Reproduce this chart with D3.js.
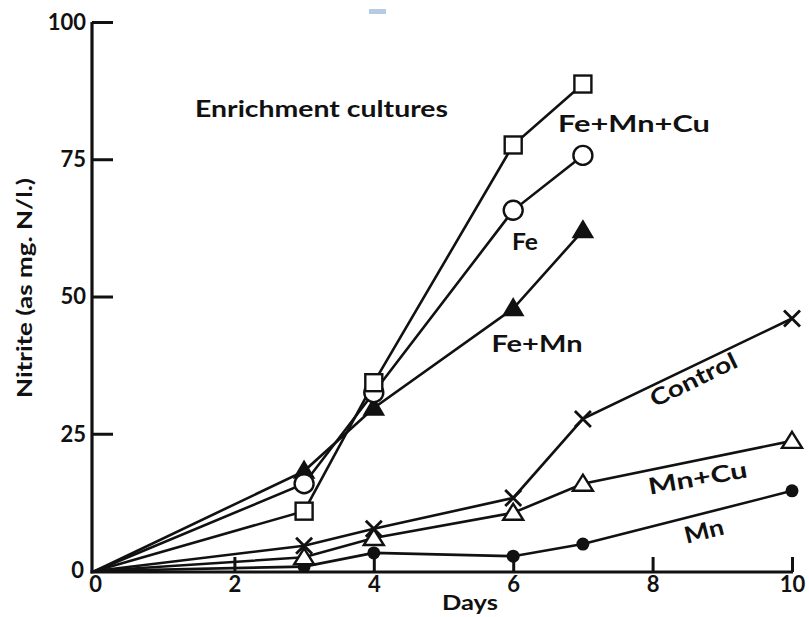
<!DOCTYPE html>
<html>
<head>
<meta charset="utf-8">
<script src="https://cdn.jsdelivr.net/npm/d3@7"></script>
<style>
  body { margin: 0; background: #fff; }
  svg { display: block; }
  text { font-family: Lato, "Open Sans", sans-serif; fill: #111; }
</style>
</head>
<body>
<svg id="chart" width="809" height="617"></svg>
<script>
// days sampled
const daysShort = [0, 3, 4, 6, 7];
const daysLong = [0, 3, 4, 6, 7, 10];

// nitrite, mg N/l
const feMnCu = [0, 10.9, 34.3, 77.6, 88.7];
const fe = [0, 15.9, 32.5, 65.7, 75.7];
const feMn = [0, 18.2, 29.7, 47.8, 62.0];
const control = [0, 4.6, 7.7, 13.3, 27.7, 46.0];
const mnCu = [0, 2.5, 6.0, 10.6, 15.9, 23.7];
const mn = [0, 0.8, 3.3, 2.7, 4.9, 14.6];

const xTicks = [0, 2, 4, 6, 8, 10];
const yTicks = [0, 25, 50, 75, 100];

const svg = d3.select("#chart");
const x = d3.scaleLinear().domain([0, 10]).range([95, 792]);
const y = d3.scaleLinear().domain([0, 100]).range([571, 22]);

const axisX = 92, axisY = 572;

// scan speck at top
svg.append("rect").attr("x", 369).attr("y", 9).attr("width", 17).attr("height", 5)
    .attr("fill", "#b4cbe2");

// y axis
const gy = svg.append("g").attr("transform", `translate(${axisX},0)`)
    .call(d3.axisLeft(y).tickValues(yTicks).tickSize(-21).tickSizeOuter(0).tickPadding(6));
gy.select(".domain").remove();
gy.selectAll(".tick line").attr("stroke", "#111").attr("stroke-width", 3);
gy.selectAll(".tick text").attr("font-size", 22).attr("font-weight", 700).attr("fill", "#111")
    .attr("dy", "0.34em");
gy.selectAll(".tick").filter(d => d === 0).select("text").attr("x", -8).attr("dy", "0.3em");

// x axis
const gx = svg.append("g").attr("transform", `translate(0,${axisY})`)
    .call(d3.axisBottom(x).tickValues(xTicks).tickSize(-15).tickSizeOuter(0).tickPadding(4));
gx.select(".domain").remove();
gx.selectAll(".tick line").attr("stroke", "#111").attr("stroke-width", 3);
gx.selectAll(".tick").filter(d => d === 0).select("line").remove();
gx.selectAll(".tick text").attr("font-size", 22).attr("font-weight", 700).attr("fill", "#111");

// axis lines
svg.append("line").attr("x1", axisX).attr("x2", axisX).attr("y1", y(100)).attr("y2", axisY + 1.5)
    .attr("stroke", "#111").attr("stroke-width", 3.2);
svg.append("line").attr("x1", axisX - 1.5).attr("x2", x(10) + 1).attr("y1", axisY).attr("y2", axisY)
    .attr("stroke", "#111").attr("stroke-width", 3.2);

// axis titles
svg.append("text").attr("x", 470).attr("y", 610).attr("text-anchor", "middle")
    .attr("font-size", 21).attr("font-weight", 700)
    .attr("textLength", 56).attr("lengthAdjust", "spacingAndGlyphs").text("Days");
svg.append("text").attr("transform", "translate(32,288) rotate(-90)").attr("text-anchor", "middle")
    .attr("font-size", 21).attr("font-weight", 700)
    .attr("textLength", 220).attr("lengthAdjust", "spacingAndGlyphs")
    .text("Nitrite (as mg. N/l.)");

// series
const line = d3.line().x(d => x(d[0])).y(d => y(d[1]));
const sym = {
    square: g => g.append("rect").attr("x", -8.5).attr("y", -8.5).attr("width", 17).attr("height", 17)
        .attr("fill", "#fff").attr("stroke", "#111").attr("stroke-width", 2.4),
    circle: g => g.append("circle").attr("r", 9.5)
        .attr("fill", "#fff").attr("stroke", "#111").attr("stroke-width", 2.4),
    triFill: g => g.append("path").attr("d", "M0,-10L10,7L-10,7Z")
        .attr("fill", "#111").attr("stroke", "#111").attr("stroke-width", 1.5),
    triOpen: g => g.append("path").attr("d", "M0,-9L10,7L-10,7Z")
        .attr("fill", "#fff").attr("stroke", "#111").attr("stroke-width", 2.4),
    cross: g => g.append("path").attr("d", "M-8,-8L8,8M-8,8L8,-8")
        .attr("fill", "none").attr("stroke", "#111").attr("stroke-width", 2.8),
    dot: g => g.append("circle").attr("r", 6.5).attr("fill", "#111")
};

const series = [
    {days: daysLong, vals: mn, mark: "dot"},
    {days: daysLong, vals: mnCu, mark: "triOpen"},
    {days: daysLong, vals: control, mark: "cross"},
    {days: daysShort, vals: feMn, mark: "triFill"},
    {days: daysShort, vals: fe, mark: "circle"},
    {days: daysShort, vals: feMnCu, mark: "square"}
];

series.forEach(s => {
    const pts = s.days.map((d, i) => [d, s.vals[i]]);
    svg.append("path").datum(pts).attr("d", line)
        .attr("fill", "none").attr("stroke", "#111").attr("stroke-width", 2.6);
});
series.forEach(s => {
    const pts = s.days.map((d, i) => [d, s.vals[i]]).filter(p => p[0] > 0);
    pts.forEach(p => {
        const g = svg.append("g").attr("transform", `translate(${x(p[0])},${y(p[1])})`);
        sym[s.mark](g);
    });
});

// labels
function label(txt, cx, cy, rot, w) {
    svg.append("text").attr("transform", `translate(${cx},${cy}) rotate(${rot})`)
        .attr("text-anchor", "middle").attr("font-size", 23).attr("font-weight", 700)
        .attr("textLength", w).attr("lengthAdjust", "spacingAndGlyphs")
        .text(txt);
}
svg.append("text").attr("x", 195).attr("y", 117).attr("font-size", 22).attr("font-weight", 700)
    .attr("textLength", 253).attr("lengthAdjust", "spacingAndGlyphs").text("Enrichment cultures");
label("Fe+Mn+Cu", 634, 132, 0, 152);
label("Fe", 525, 250, 0, 26);
label("Fe+Mn", 537, 352, 0, 91);
label("Control", 697, 387, -26, 94);
label("Mn+Cu", 699, 486, -10, 100);
label("Mn", 706, 539, -14, 40);
</script>
</body>
</html>
